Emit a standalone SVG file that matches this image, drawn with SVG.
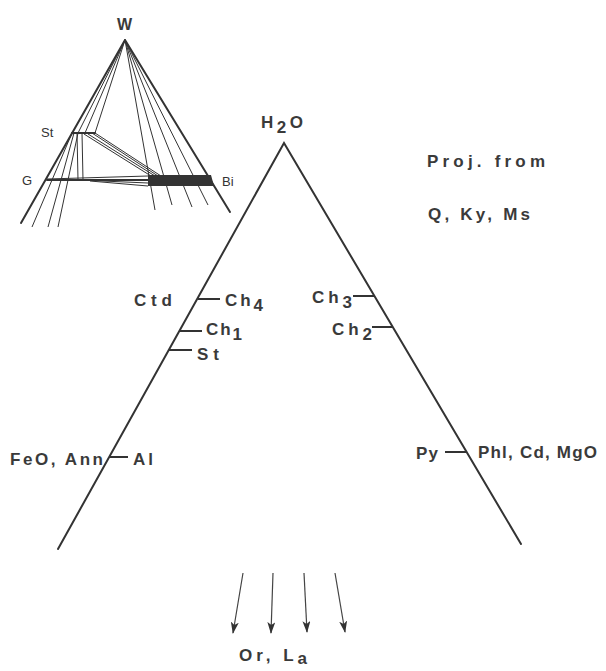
<svg xmlns="http://www.w3.org/2000/svg" width="606" height="671" viewBox="0 0 606 671">
<defs>
<style>
.t{font-family:"Liberation Sans",Arial,sans-serif;font-size:17px;font-weight:bold;fill:#3a3a3a;}
.s{font-family:"Liberation Sans",Arial,sans-serif;font-size:13px;fill:#333;}
.edge{stroke:#333;stroke-width:2;fill:none;stroke-linecap:round;}
.thin{stroke:#333;stroke-width:1;fill:none;}
.tick{stroke:#333;stroke-width:2;}
.arr{stroke:#444;stroke-width:1.2;fill:none;marker-end:url(#ah);}
</style>
<marker id="ah" viewBox="0 0 12 8" refX="11" refY="4" markerWidth="12" markerHeight="8" markerUnits="userSpaceOnUse" orient="auto">
<path d="M0,0 L12,4 L0,8 L3,4 z" fill="#333"/>
</marker>
</defs>
<rect width="606" height="671" fill="#fff"/>

<g id="inset">
<line class="edge" x1="125" y1="40" x2="21" y2="223"/>
<line class="edge" x1="125" y1="40" x2="230" y2="212"/>
<g class="thin">
<line x1="125" y1="40" x2="78" y2="133"/>
<line x1="125" y1="40" x2="85" y2="133"/>
<line x1="125" y1="40" x2="95" y2="133"/>
<line x1="72" y1="133" x2="32" y2="227"/>
<line x1="74" y1="133" x2="48" y2="227"/>
<line x1="78" y1="133" x2="58" y2="227"/>
<line x1="77" y1="133" x2="78" y2="180"/>
<line x1="82" y1="133" x2="83" y2="180"/>
<line x1="84" y1="134" x2="151" y2="176"/>
<line x1="88" y1="134" x2="155" y2="176"/>
<line x1="92" y1="133" x2="158" y2="176"/>
<line x1="95" y1="133" x2="161" y2="176"/>
<line x1="125" y1="40" x2="155" y2="210"/>
<line x1="125" y1="40" x2="172" y2="205"/>
<line x1="125" y1="40" x2="192" y2="207"/>
<line x1="125" y1="40" x2="208" y2="205"/>
<line x1="47" y1="179" x2="148" y2="176"/>
<line x1="47" y1="180" x2="148" y2="180"/>
<line x1="80" y1="180" x2="148" y2="183"/>
<line x1="90" y1="181" x2="148" y2="186"/>
</g>
<line class="edge" x1="72" y1="133" x2="95" y2="133"/>
<line class="edge" x1="47" y1="180" x2="148" y2="180"/>
<polygon points="148,175 211,175 214,186 148,186" fill="#333"/>
<text class="t" x="117" y="30" style="font-size:16px">W</text>
<text class="s" x="41" y="137">St</text>
<text class="s" x="22" y="185">G</text>
<text class="s" x="222" y="186">Bi</text>
</g>

<g id="triangle">
<polyline class="edge" points="58,549 284,143 521,544"/>
</g>

<g id="H2O"><text class="t" x="261" y="128" textLength="42">H<tspan dy="5">2</tspan><tspan dy="-5">O</tspan></text></g>
<g id="proj"><text class="t" x="427" y="167" textLength="118">Proj. from</text>
<text class="t" x="428" y="220" textLength="102">Q, Ky, Ms</text></g>

<g id="Ctd"><text class="t" x="134" y="306" textLength="38">Ctd</text></g>
<g id="Ch4"><line class="tick" x1="198" y1="299" x2="220" y2="299"/>
<text class="t" x="225" y="306" textLength="38">Ch<tspan dy="5">4</tspan></text></g>
<g id="Ch1"><line class="tick" x1="180" y1="331" x2="202" y2="331"/>
<text class="t" x="206" y="335" textLength="36">Ch<tspan dy="5">1</tspan></text></g>
<g id="St"><line class="tick" x1="169" y1="350" x2="192" y2="350"/>
<text class="t" x="197" y="360" textLength="22">St</text></g>
<g id="Ch3"><line class="tick" x1="353" y1="296" x2="375" y2="296"/>
<text class="t" x="312" y="303" textLength="40">Ch<tspan dy="5">3</tspan></text></g>
<g id="Ch2"><line class="tick" x1="372" y1="327" x2="393" y2="327"/>
<text class="t" x="332" y="335" textLength="40">Ch<tspan dy="5">2</tspan></text></g>
<g id="Al"><line class="tick" x1="109" y1="457" x2="128" y2="457"/>
<text class="t" x="10" y="465" textLength="93">FeO, Ann</text>
<text class="t" x="133" y="465" textLength="20">Al</text></g>
<g id="Phl"><line class="tick" x1="445" y1="452" x2="467" y2="452"/>
<text class="t" x="416" y="459" textLength="22">Py</text>
<text class="t" x="478" y="458" textLength="119">Phl, Cd, MgO</text></g>

<g id="connectors">
<line class="arr" x1="243" y1="573" x2="233" y2="633"/>
<line class="arr" x1="273" y1="573" x2="271" y2="633"/>
<line class="arr" x1="304" y1="573" x2="307" y2="632"/>
<line class="arr" x1="335" y1="573" x2="345" y2="632"/>
</g>
<g id="OrLa"><text class="t" x="239" y="661" textLength="68">Or, L<tspan dy="3">a</tspan></text></g>
</svg>
